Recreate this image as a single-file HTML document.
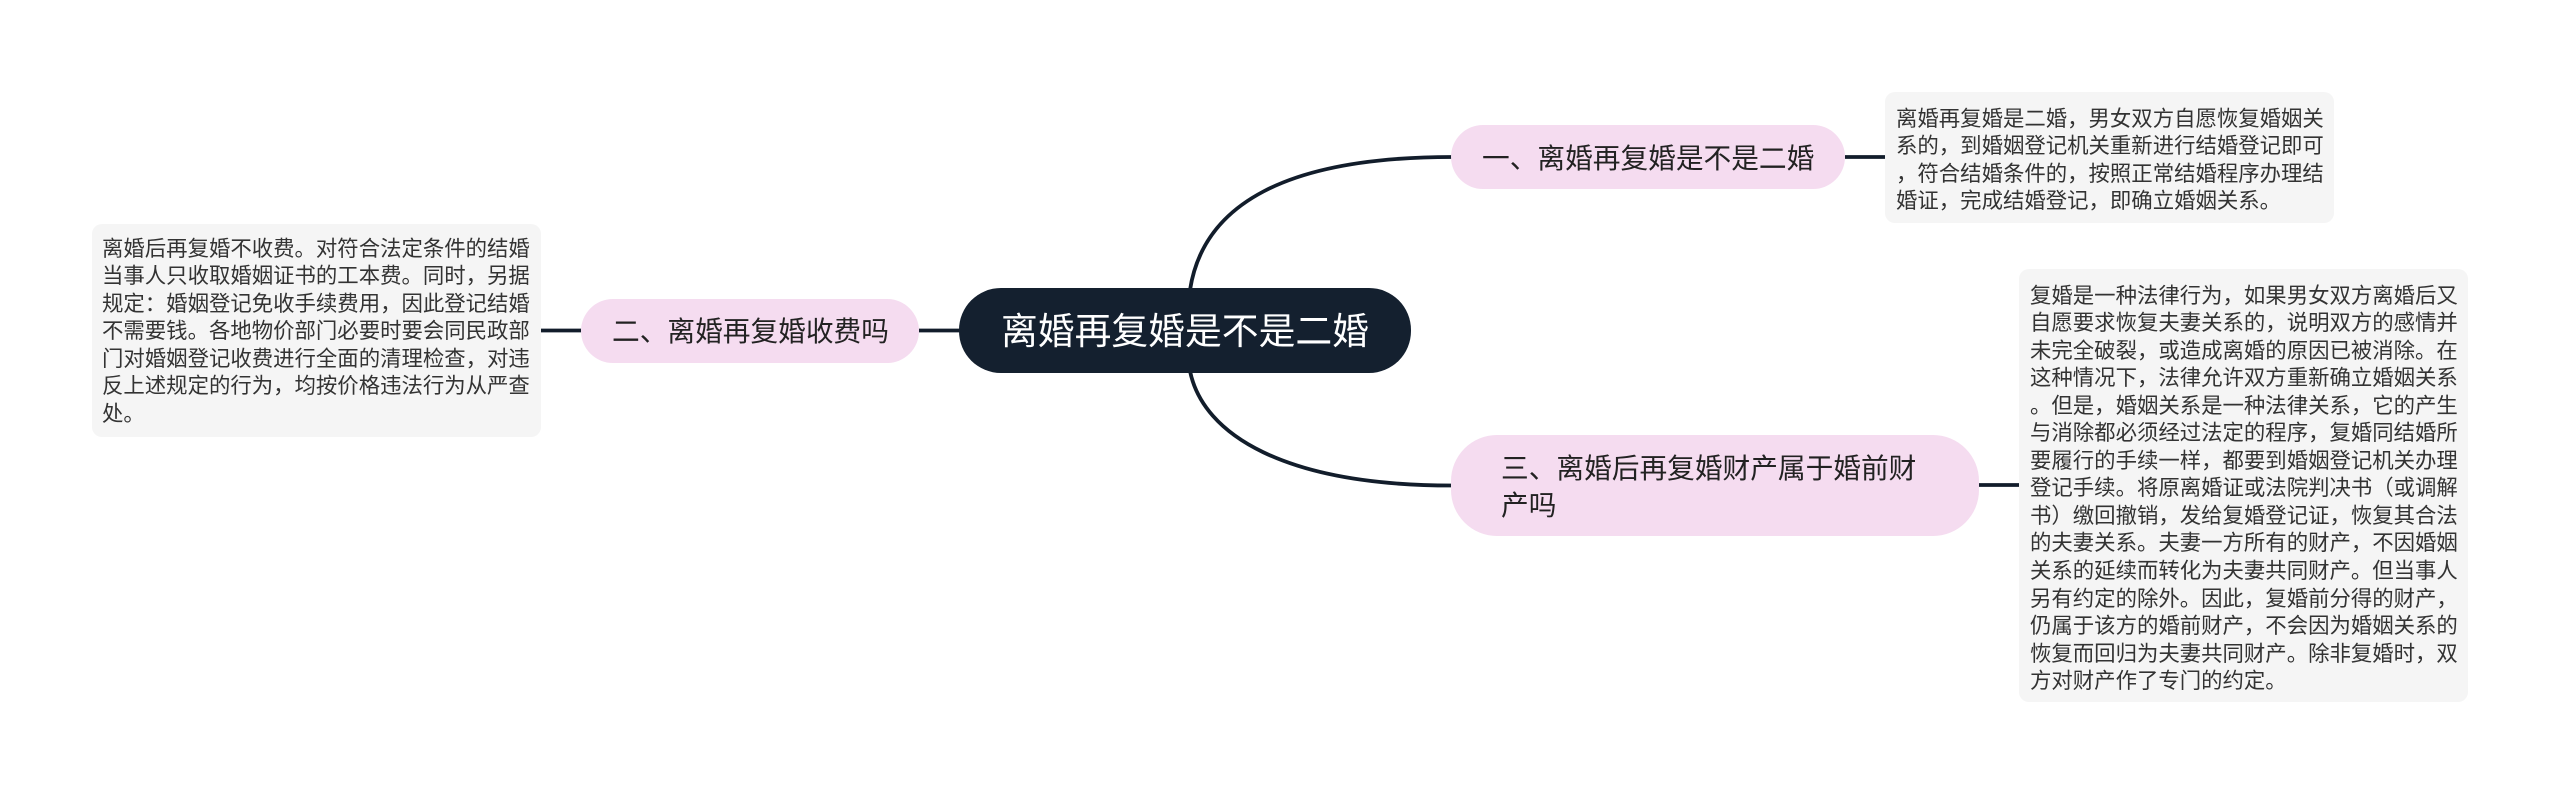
<!DOCTYPE html>
<html lang="zh">
<head>
<meta charset="utf-8">
<style>
html,body{margin:0;padding:0;background:#fff;}
#c{position:relative;width:2560px;height:794px;overflow:hidden;background:#fff;font-family:"Liberation Sans","Noto Sans CJK SC",sans-serif;}
#c svg{position:absolute;left:0;top:0;}
.n{position:absolute;box-sizing:border-box;white-space:nowrap;}
.t{position:absolute;white-space:nowrap;}
.b{background:#f5dcf0;}
.l{background:#f5f5f5;border-radius:10px;}
.bt{font-size:27.7px;line-height:37px;color:#222;}
.lt{font-size:21.4px;line-height:27.55px;color:#333;}
</style>
</head>
<body>
<div id="c">
<svg width="2560" height="794" fill="none" stroke="#121d2b" stroke-width="3.8">
<path d="M1190 290C1203 205 1285 157 1452 157"/>
<path d="M1190 371C1203 435 1285 485.5 1452 485.5"/>
<path d="M1845 157H1885"/>
<path d="M1979 485H2019"/>
<path d="M541 330.5H581"/>
<path d="M919 330.5H960"/>
</svg>

<div class="n" style="left:959px;top:288px;width:452px;height:85px;border-radius:42px;background:#14202f;"></div>
<div class="t" style="left:1001px;top:307px;font-size:36.8px;line-height:49px;color:#fff;">离婚再复婚是不是二婚</div>

<div class="n b" style="left:1451px;top:125px;width:394px;height:64px;border-radius:32px;"></div>
<div class="t bt" style="left:1482px;top:140px;">一、离婚再复婚是不是二婚</div>

<div class="n b" style="left:581px;top:299px;width:338px;height:64px;border-radius:32px;"></div>
<div class="t bt" style="left:612px;top:313px;">二、离婚再复婚收费吗</div>

<div class="n b" style="left:1451px;top:435px;width:528px;height:101px;border-radius:46px;"></div>
<div class="t bt" style="left:1501px;top:450px;">三、离婚后再复婚财产属于婚前财<br>产吗</div>

<div class="n l" style="left:1885px;top:92px;width:449px;height:131px;"></div>
<div class="t lt" style="left:1896px;top:105.5px;">离婚再复婚是二婚，男女双方自愿恢复婚姻关<br>系的，到婚姻登记机关重新进行结婚登记即可<br>，符合结婚条件的，按照正常结婚程序办理结<br>婚证，完成结婚登记，即确立婚姻关系。</div>

<div class="n l" style="left:92px;top:224px;width:449px;height:213px;"></div>
<div class="t lt" style="left:102px;top:235.5px;">离婚后再复婚不收费。对符合法定条件的结婚<br>当事人只收取婚姻证书的工本费。同时，另据<br>规定：婚姻登记免收手续费用，因此登记结婚<br>不需要钱。各地物价部门必要时要会同民政部<br>门对婚姻登记收费进行全面的清理检查，对违<br>反上述规定的行为，均按价格违法行为从严查<br>处。</div>

<div class="n l" style="left:2019px;top:269px;width:449px;height:433px;"></div>
<div class="t lt" style="left:2030px;top:282.5px;">复婚是一种法律行为，如果男女双方离婚后又<br>自愿要求恢复夫妻关系的，说明双方的感情并<br>未完全破裂，或造成离婚的原因已被消除。在<br>这种情况下，法律允许双方重新确立婚姻关系<br>。但是，婚姻关系是一种法律关系，它的产生<br>与消除都必须经过法定的程序，复婚同结婚所<br>要履行的手续一样，都要到婚姻登记机关办理<br>登记手续。将原离婚证或法院判决书（或调解<br>书）缴回撤销，发给复婚登记证，恢复其合法<br>的夫妻关系。夫妻一方所有的财产，不因婚姻<br>关系的延续而转化为夫妻共同财产。但当事人<br>另有约定的除外。因此，复婚前分得的财产，<br>仍属于该方的婚前财产，不会因为婚姻关系的<br>恢复而回归为夫妻共同财产。除非复婚时，双<br>方对财产作了专门的约定。</div>
</div>
</body>
</html>
